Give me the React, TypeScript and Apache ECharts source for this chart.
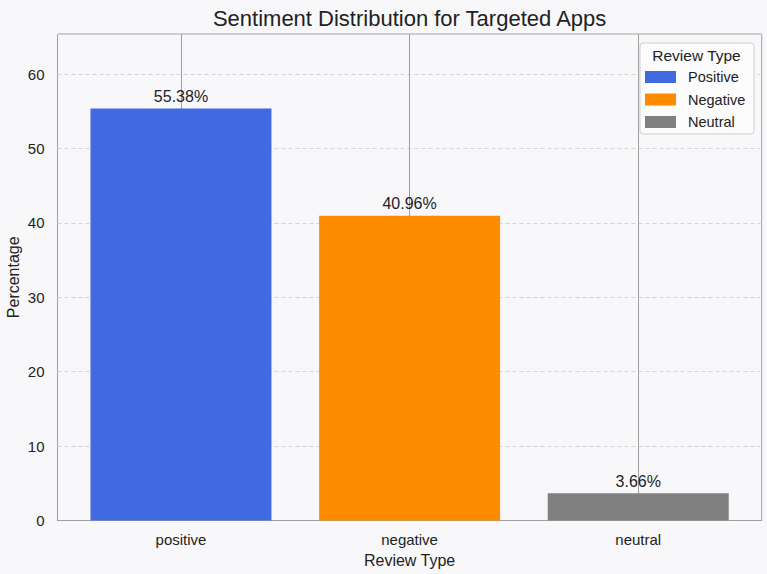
import React, { useEffect, useRef } from "react";
import * as echarts from "echarts";

// Review sentiment shares (percent of all reviews)
const categories = ["positive", "negative", "neutral"];
const seriesNames = ["Positive", "Negative", "Neutral"];
const percentages = [55.38, 40.96, 3.66];
const barColors = ["#4169E1", "#FF8C00", "#808080"];

const yMax = 65.38;
const FONT = "'Liberation Sans', Arial, Helvetica, sans-serif";
const TEXT = "#222222";

export default function App() {
  const ref = useRef<HTMLDivElement>(null);

  useEffect(() => {
    if (!ref.current) return;
    const chart = echarts.init(ref.current, undefined, { renderer: "svg" });

    const series = categories.map((cat, i) => ({
      name: seriesNames[i],
      type: "bar",
      barWidth: 181,
      barGap: "-100%",
      z: 3,
      itemStyle: { color: barColors[i] },
      label: {
        show: true,
        position: "top",
        distance: 4,
        fontFamily: FONT,
        fontSize: 16,
        color: TEXT,
        formatter: (p: any) => `${Number(p.value[1]).toFixed(2)}%`,
      },
      data: [[i, percentages[i]]],
      ...(i === 0
        ? {
            markLine: {
              silent: true,
              symbol: "none",
              z: 1,
              label: { show: false },
              lineStyle: { color: "#a0a0a0", width: 1, type: "solid" },
              data: categories.map((_, k) => ({ xAxis: k })),
            },
          }
        : {}),
    }));

    chart.setOption({
      animation: false,
      backgroundColor: "#f8f8fa",
      textStyle: { fontFamily: FONT },
      title: {
        text: "Sentiment Distribution for Targeted Apps",
        left: 409.6,
        textAlign: "center",
        top: 7,
        padding: 0,
        textStyle: { fontFamily: FONT, fontSize: 22, fontWeight: "normal", color: TEXT },
      },
      grid: {
        left: 57.5,
        right: 5.3,
        top: 34,
        bottom: 53.5,
        outerBoundsMode: "none",
        containLabel: false,
        show: true,
        borderColor: "#a0a0a0",
        borderWidth: 1,
        backgroundColor: "transparent",
      },
      xAxis: {
        type: "value",
        min: -0.54,
        max: 2.54,
        name: "Review Type",
        nameLocation: "middle",
        nameGap: 32,
        nameMoveOverlap: false,
        nameTextStyle: { fontFamily: FONT, fontSize: 16, color: TEXT },
        axisLine: { show: true, lineStyle: { color: "#a0a0a0", width: 1 } },
        axisTick: { show: false, customValues: [0, 1, 2] },
        splitLine: { show: false },
        axisLabel: {
          customValues: [0, 1, 2],
          margin: 11,
          fontFamily: FONT,
          fontSize: 15,
          color: TEXT,
          showMinLabel: true,
          showMaxLabel: true,
          formatter: (v: number) =>
            Number.isInteger(v) && categories[v] ? categories[v] : "",
        },
      },
      yAxis: {
        type: "value",
        min: 0,
        max: yMax,
        interval: 10,
        name: "Percentage",
        nameLocation: "middle",
        nameGap: 36,
        nameMoveOverlap: false,
        nameTextStyle: { fontFamily: FONT, fontSize: 16, color: TEXT },
        axisLine: { show: false },
        axisTick: { show: false },
        axisLabel: {
          margin: 13,
          fontFamily: FONT,
          fontSize: 15,
          color: TEXT,
          showMaxLabel: false,
        },
        splitLine: {
          show: true,
          lineStyle: { color: "#d4d4d4", width: 1, type: [4, 3] },
        },
      },
      legend: {
        orient: "vertical",
        left: 645,
        top: 69.5,
        padding: 0,
        itemWidth: 31,
        itemHeight: 12,
        itemGap: 7.5,
        icon: "rect",
        z: 12,
        data: seriesNames,
        textStyle: {
          fontFamily: FONT,
          fontSize: 14.5,
          lineHeight: 14.5,
          color: TEXT,
          padding: [0, 0, 0, 7],
        },
      },
      graphic: [
        {
          type: "rect",
          z: 10,
          silent: true,
          shape: { x: 640, y: 43, width: 114, height: 91, r: 3 },
          style: { fill: "#fcfcfd", stroke: "#cfcfcf", lineWidth: 1 },
        },
        {
          type: "text",
          z: 11,
          silent: true,
          x: 696.5,
          y: 55.5,
          style: {
            text: "Review Type",
            fontFamily: FONT,
            fontSize: 15.5,
            fill: TEXT,
            align: "center",
            verticalAlign: "middle",
          },
        },
      ],
      series,
    });

    return () => chart.dispose();
  }, []);

  return (
    <div
      ref={ref}
      style={{ position: "fixed", left: 0, top: 0, width: 767, height: 574 }}
    />
  );
}
